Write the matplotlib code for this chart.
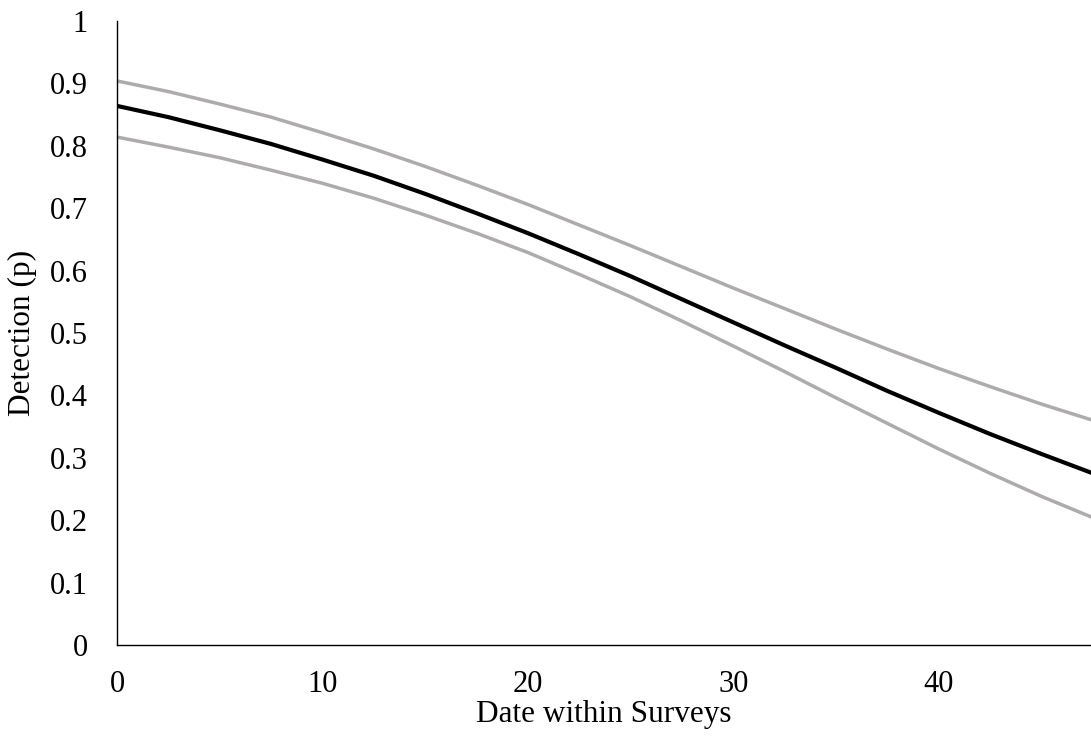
import numpy as np
import matplotlib.pyplot as plt

plt.rcParams['font.family'] = ['Liberation Serif', 'DejaVu Serif']

# date within surveys
date = [0, 2.5, 5, 7.5, 10, 12.5, 15, 17.5, 20, 22.5, 25, 27.5,
        30, 32.5, 35, 37.5, 40, 42.5, 45, 47.5]
# detection estimate
p_est = [0.864, 0.846, 0.825, 0.803, 0.778, 0.752, 0.723, 0.692, 0.660, 0.626,
         0.591, 0.554, 0.517, 0.480, 0.444, 0.407, 0.372, 0.338, 0.306, 0.275]
# upper and lower confidence limits
p_upper = [0.904, 0.887, 0.867, 0.846, 0.821, 0.795, 0.767, 0.737, 0.706, 0.673,
           0.640, 0.606, 0.572, 0.539, 0.506, 0.474, 0.443, 0.414, 0.386, 0.360]
p_lower = [0.814, 0.798, 0.781, 0.761, 0.740, 0.716, 0.689, 0.660, 0.629, 0.594,
           0.558, 0.519, 0.479, 0.438, 0.396, 0.355, 0.314, 0.275, 0.238, 0.204]

xticks = [0, 10, 20, 30, 40]
yticks = np.arange(0, 1.01, 0.1)

fig = plt.figure(figsize=(10.91, 7.46), dpi=100)
ax = fig.add_axes([0.1072, 0.1354, 0.8928, 0.8364])

grey = '#AEABAB'
ax.plot(date, p_upper, color=grey, lw=2.5, solid_capstyle='butt')
ax.plot(date, p_lower, color=grey, lw=2.5, solid_capstyle='butt')
ax.plot(date, p_est, color='black', lw=3.0, solid_capstyle='butt')

ax.set_xlim(0, 47.4)
ax.set_ylim(0, 1)
ax.set_xticks(xticks)
ax.set_yticks(yticks)
ax.set_yticklabels(['0'] + ['%.1f' % v for v in yticks[1:-1]] + ['1'])
ax.tick_params(axis='both', length=0, labelsize=22)
ax.tick_params(axis='y', pad=21)
ax.tick_params(axis='x', pad=18)

for s in ['top', 'right']:
    ax.spines[s].set_visible(False)
for s in ['left', 'bottom']:
    ax.spines[s].set_linewidth(1.0)
    ax.spines[s].set_color('black')

ax.set_xlabel('Date within Surveys', fontsize=22.5, labelpad=1)
ax.set_ylabel('Detection (p)', fontsize=22.5, labelpad=9)

plt.savefig('out.png', dpi=100)
